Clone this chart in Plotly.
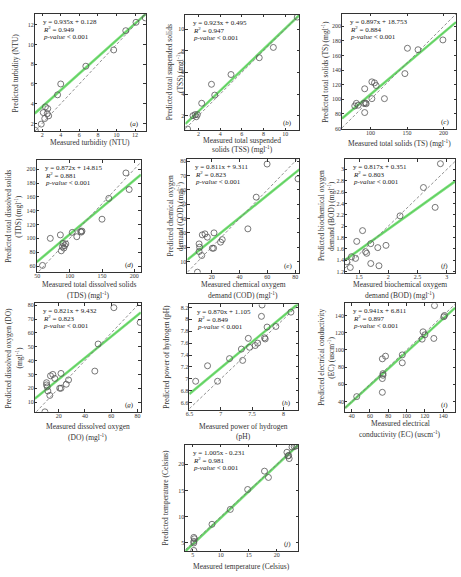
import plotly.graph_objects as go

W, H = 461, 577
FONT = "Liberation Serif"

# ---------------- data (measured, predicted) ----------------
a_meas = [1.26, 1.9, 2.12, 2.28, 2.35, 2.6, 2.7, 2.55, 3.66, 4.0, 6.7, 9.7, 11.0, 12.1, 13.1]
a_pred = [1.3, 1.93, 3.1, 2.5, 3.68, 3.5, 2.77, 3.0, 4.9, 6.0, 7.8, 9.45, 11.4, 12.25, 12.7]

b_meas = [1.0, 1.5, 1.7, 1.9, 1.8, 2.3, 3.2, 3.5, 5.0, 7.6, 8.9, 11.1]
b_pred = [0.77, 2.0, 2.1, 2.1, 1.9, 3.15, 4.9, 3.9, 5.8, 7.35, 8.3, 11.1]

c_meas = [78.4, 80.6, 83, 91, 92, 93, 94, 92, 101.8, 101.8, 105.4, 107.7, 119, 147, 150.5, 165, 199]
c_pred = [91, 94.6, 92, 94.6, 114.5, 95, 94, 82, 101, 124, 122.6, 119, 101, 135.3, 170, 168, 181.4]

d_meas = [58, 70, 85.6, 88.7, 87, 89.7, 92.3, 94, 91, 104, 111, 117, 118, 119, 150, 160.5, 187, 192]
d_pred = [60.9, 100, 105, 88, 82, 92.8, 89.5, 92, 86, 108.6, 102.4, 110, 109, 110.5, 127.7, 157.8, 194.5, 170.6]

e_meas = [9.8, 11, 11.4, 11, 12.9, 13.3, 15.2, 16.9, 21.7, 20.5, 21.4, 26.4, 27.6, 46, 52, 59.8, 82]
e_pred = [2.6, 22.3, 20, 17, 14.2, 28.6, 29.3, 27, 30, 19.3, 19.3, 23.5, 25.3, 32.8, 54.9, 78, 67.7]

f_meas = [1.29, 1.35, 1.37, 1.44, 1.46, 1.56, 1.61, 1.63, 1.7, 1.7, 1.82, 1.84, 1.96, 2.2, 2.6, 2.8, 2.89]
f_pred = [1.37, 1.27, 1.46, 1.43, 1.73, 1.92, 1.55, 1.52, 1.69, 1.34, 1.62, 1.3, 1.66, 2.18, 2.68, 2.33, 3.1]

g_meas = [9.5, 10.75, 10.75, 11.25, 11.75, 13.25, 13.75, 15.5, 17, 21.75, 20.75, 21.75, 25.75, 27.5, 47.5, 50, 62, 82]
g_pred = [2.9, 22.4, 24, 21, 18, 14.8, 29, 30, 27.1, 30.7, 20, 20, 22.9, 26, 32.4, 52, 78.3, 67.6]

h_meas = [6.6, 6.79, 6.95, 7.14, 7.33, 7.35, 7.44, 7.46, 7.55, 7.59, 7.65, 7.66, 7.7, 7.71, 7.74, 7.88, 8.12]
h_pred = [6.96, 7.22, 6.96, 7.34, 7.5, 7.31, 7.68, 7.53, 7.56, 7.6, 8.05, 8.24, 7.69, 7.67, 7.87, 7.88, 8.12]

i_meas = [45.5, 73.5, 73.5, 74.2, 74.2, 73.5, 77, 95.3, 95.3, 117, 118, 120, 129.8, 130.5, 140.7, 141.5]
i_pred = [45.7, 50.7, 66.7, 72.4, 70.5, 89.6, 92.7, 94.2, 85, 112.5, 121, 117.5, 113.3, 151.5, 138.5, 140]

j_meas = [5.2, 5.2, 5.2, 5.3, 5.2, 8.44, 11.7, 14.8, 17.8, 18.5, 21.8, 22.1, 22.0, 22.2, 22.7, 23.1, 23.4]
j_pred = [3.56, 5.0, 5.3, 5.8, 6.06, 8.56, 11.4, 15.2, 18.7, 17.5, 22.3, 21.7, 21.6, 21.1, 23.3, 23.4, 23.5]

# drawn fit lines (slope, intercept as seen in picture)
fit_slope = [0.843, 0.957, 0.846, 0.784, 0.784, 0.739, 0.773, 0.872, 0.968, 1.008]
fit_inter = [2.0, 0.48, 22.2, 27.4, 9.2, 0.469, 11.05, 1.08, 0.7, -0.29]

# equation texts
eq_text = ["y = 0.935x + 0.128", "y = 0.923x + 0.495", "y = 0.897x + 18.753",
           "y = 0.872x + 14.815", "y = 0.811x + 9.311", "y = 0.817x + 0.351",
           "y = 0.821x + 9.432", "y = 0.870x + 1.105", "y = 0.941x + 6.811",
           "y = 1.005x - 0.231"]
r2_text = ["0.949", "0.947", "0.884", "0.881", "0.823", "0.803", "0.823", "0.849", "0.897", "0.981"]
panel_tags = ["a", "b", "c", "d", "e", "f", "g", "h", "i", "j"]

M = "(mgl<sup>-1</sup>)"
x_titles = [["Measured turbidity (NTU)"],
            ["Measured total suspended", "solids (TSS) " + M],
            ["Measured total solids (TS) " + M],
            ["Measured total dissolved solids", "(TDS) " + M],
            ["Measured chemical oxygem", "demand (COD) " + M],
            ["Measured biochemical oxygem", "demand (BOD) " + M],
            ["Measured dissolved oxygen", "(DO) " + M],
            ["Measured power of hydrogen", "(pH)"],
            ["Measured electrical", "conductivity (EC) (uscm<sup>-1</sup>)"],
            ["Measured temperature (Celsius)"]]
y_titles = [["Predicted turbidity (NTU)"],
            ["Predicted total suspended solids", "(TSS) " + M],
            ["Predicted total solids (TS) " + M],
            ["Predicted total dissolved solids", "(TDS) " + M],
            ["Predicted chemical oxygen", "demand (COD) " + M],
            ["Predicted biochemical oxygen", "demand (BOD) " + M],
            ["Predicted dissolved oxygen (DO)", M],
            ["Predicted power of hydrogen (pH)"],
            ["Predicted electrical conductivity", "(EC) (uscm<sup>-1</sup>)"],
            ["Predicted temperature (Celsius)"]]

meas = [a_meas, b_meas, c_meas, d_meas, e_meas, f_meas, g_meas, h_meas, i_meas, j_meas]
pred = [a_pred, b_pred, c_pred, d_pred, e_pred, f_pred, g_pred, h_pred, i_pred, j_pred]

x_ranges = [[1.2, 13.15], [0.8, 11.3], [61, 217], [49, 210], [2.6, 83],
            [1.26, 3.14], [1.75, 82.5], [6.5, 8.24], [32.7, 153], [3.7, 23.85]]
y_ranges = [[1.2, 13.1], [0.65, 11.3], [59, 217], [52, 213], [2.3, 81.4],
            [1.18, 3.18], [2.9, 81.4], [6.48, 8.25], [28, 154], [3.44, 23.75]]
x_dtick = [2, 2, 50, 50, 20, 0.5, 20, 0.5, 20, 5]
y_dtick = [2, 2, 20, 20, 10, 0.2, 10, 0.2, 20, 5]

# ---------------- layout geometry (pixels) ----------------
boxes = [(31, 143, 13, 131), (183, 298, 14, 130), (341, 456, 13, 129),
         (33, 138, 160, 272), (185, 298, 159, 273), (344, 455, 159, 273),
         (31, 138, 304, 413), (187, 297, 305, 411), (344, 455, 304, 413),
         (183, 297, 446, 553)]
xlab_y = [[142], [140, 149], [143], [285, 296], [285, 296], [285, 296],
          [428, 438], [428, 438], [425, 435], [568]]
ylab_x = [[12], [167, 177], [323], [5, 14], [168, 177], [321, 330],
          [5, 15], [164], [320, 329], [163]]


def px(x):
    return x / W


def py(y):
    return 1 - y / H


fig = go.Figure()
annotations = []
layout = {}

for k in range(10):
    sfx = "" if k == 0 else str(k + 1)
    xa, ya = "x" + sfx, "y" + sfx
    l, r, t, b = boxes[k]
    x0, x1 = x_ranges[k]
    y0, y1 = y_ranges[k]

    # green fitted line
    fx = [x0, x1]
    fy = [fit_slope[k] * v + fit_inter[k] for v in fx]
    fig.add_trace(go.Scatter(x=fx, y=fy, mode="lines", xaxis=xa, yaxis=ya,
                             line=dict(color="rgb(125,222,125)", width=2.6),
                             showlegend=False, hoverinfo="skip"))
    fig.add_trace(go.Scatter(x=fx, y=fy, mode="lines", xaxis=xa, yaxis=ya,
                             line=dict(color="rgb(80,200,80)", width=0.8),
                             showlegend=False, hoverinfo="skip"))
    # 1:1 dashed line
    lo, hi = max(x0, y0), min(x1, y1)
    fig.add_trace(go.Scatter(x=[lo, hi], y=[lo, hi], mode="lines", xaxis=xa, yaxis=ya,
                             line=dict(color="#777777", width=0.8, dash="3px,2px"),
                             showlegend=False, hoverinfo="skip"))
    # data points
    fig.add_trace(go.Scatter(x=meas[k], y=pred[k], mode="markers", xaxis=xa, yaxis=ya,
                             marker=dict(symbol="circle-open", size=6,
                                         color="#555555", line=dict(width=0.8)),
                             showlegend=False))

    axcommon = dict(showline=True, linecolor="#333333", linewidth=0.8, mirror="ticks",
                    ticks="inside", ticklen=2.5, tickwidth=0.6, tickcolor="#333333",
                    showgrid=False, zeroline=False,
                    tickfont=dict(family=FONT, size=6, color="#333333"))
    layout["xaxis" + sfx] = dict(domain=[px(l), px(r)], range=[x0, x1], dtick=x_dtick[k],
                                 tick0=0, anchor=ya, ticklabelstandoff=-2, **axcommon)
    layout["yaxis" + sfx] = dict(domain=[py(b), py(t)], range=[y0, y1], dtick=y_dtick[k],
                                 tick0=0, anchor=xa, ticklabelstandoff=-1, **axcommon)

    # equation block
    lines = [eq_text[k], "<i>R</i><sup>2</sup> = " + r2_text[k], "<i>p-value</i> &lt; 0.001"]
    for j, (txt, off) in enumerate(zip(lines, [8, 15.5, 23])):
        annotations.append(dict(text=txt, xref="paper", yref="paper",
                                x=px(l + 6), y=py(t + off), xanchor="left", yanchor="middle",
                                showarrow=False,
                                font=dict(family=FONT, size=7, color="#222222")))
    # panel tag
    annotations.append(dict(text="(<i>" + panel_tags[k] + "</i>)", xref="paper", yref="paper",
                            x=px(r - 5), y=py(b - 7), xanchor="right", yanchor="middle",
                            showarrow=False, font=dict(family=FONT, size=7, color="#222222")))
    # axis titles
    cx = (l + r) / 2
    for txt, yy in zip(x_titles[k], xlab_y[k]):
        annotations.append(dict(text=txt, xref="paper", yref="paper", x=px(cx), y=py(yy),
                                xanchor="center", yanchor="middle", showarrow=False,
                                font=dict(family=FONT, size=7.5, color="#333333")))
    cy = (t + b) / 2
    for txt, xx in zip(y_titles[k], ylab_x[k]):
        annotations.append(dict(text=txt, xref="paper", yref="paper", x=px(xx), y=py(cy),
                                xanchor="center", yanchor="middle", textangle=-90,
                                showarrow=False,
                                font=dict(family=FONT, size=7.5, color="#333333")))

fig.update_layout(width=W, height=H, margin=dict(l=0, r=0, t=0, b=0),
                  paper_bgcolor="white", plot_bgcolor="white",
                  annotations=annotations, **layout)

fig.write_html("out.html")
